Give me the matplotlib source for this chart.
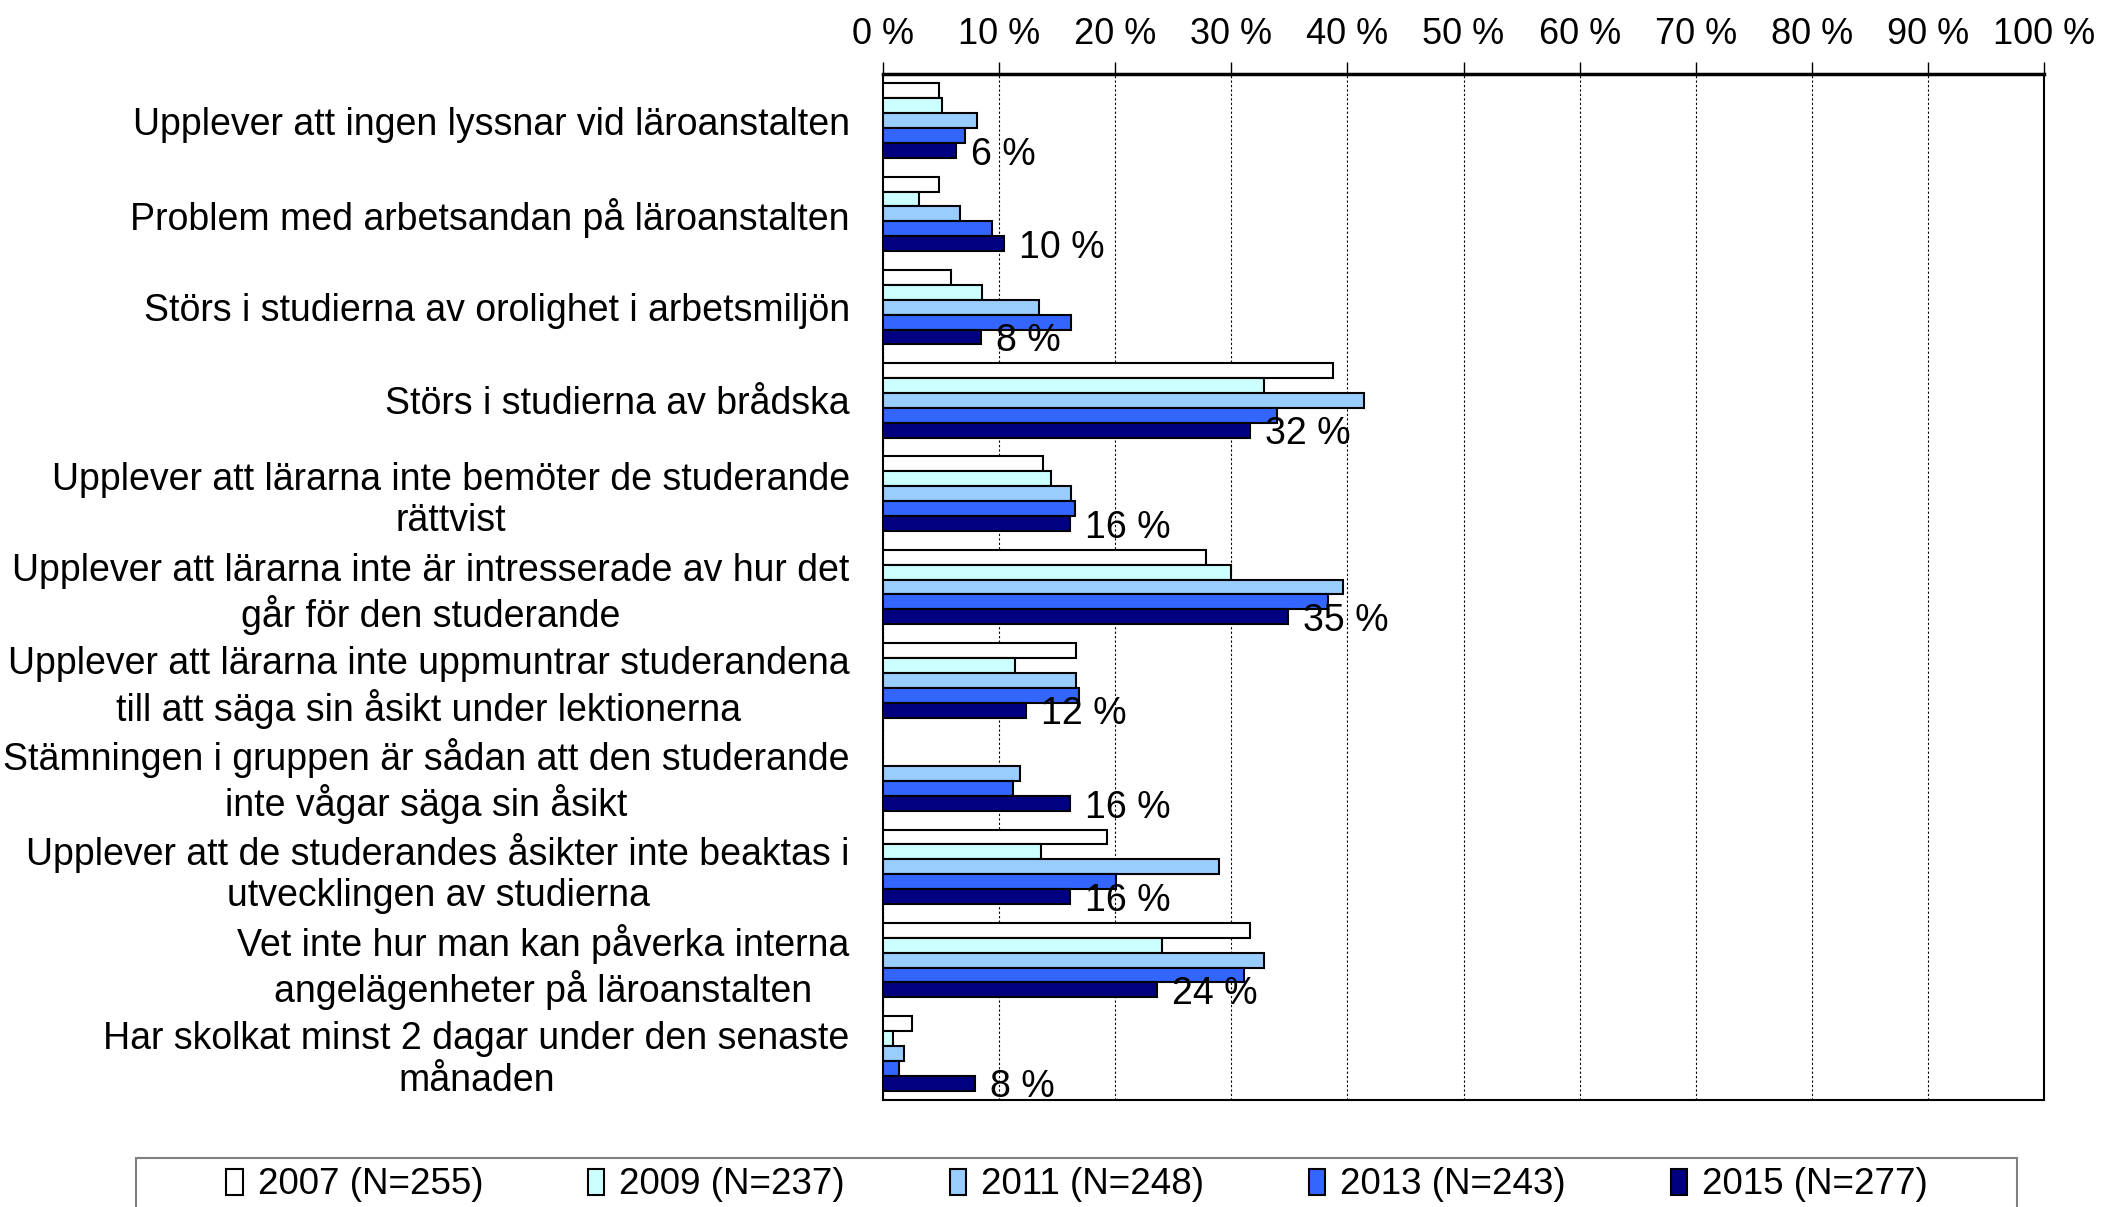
import numpy as np
import matplotlib
matplotlib.use("Agg")
import matplotlib.pyplot as plt
from matplotlib.patches import Rectangle, Patch

plt.rcParams['font.family'] = ['Liberation Sans', 'DejaVu Sans']

categories = [
    "Upplever att ingen lyssnar vid läroanstalten",
    "Problem med arbetsandan på läroanstalten",
    "Störs i studierna av orolighet i arbetsmiljön",
    "Störs i studierna av brådska",
    "Upplever att lärarna inte bemöter de studerande\nrättvist",
    "Upplever att lärarna inte är intresserade av hur det\ngår för den studerande",
    "Upplever att lärarna inte uppmuntrar studerandena\ntill att säga sin åsikt under lektionerna",
    "Stämningen i gruppen är sådan att den studerande\ninte vågar säga sin åsikt",
    "Upplever att de studerandes åsikter inte beaktas i\nutvecklingen av studierna",
    "Vet inte hur man kan påverka interna\nangelägenheter på läroanstalten",
    "Har skolkat minst 2 dagar under den senaste\nmånaden",
]

series_names = ["2007 (N=255)", "2009 (N=237)", "2011 (N=248)", "2013 (N=243)", "2015 (N=277)"]

v2007 = [4.8, 4.8, 5.9, 38.8, 13.8, 27.8, 16.6, np.nan, 19.3, 31.6, 2.5]
v2009 = [5.1, 3.1, 8.5, 32.8, 14.5, 30.0, 11.4, np.nan, 13.6, 24.0, 0.9]
v2011 = [8.1, 6.6, 13.4, 41.4, 16.2, 39.6, 16.6, 11.8, 28.9, 32.8, 1.8]
v2013 = [7.1, 9.4, 16.2, 33.9, 16.5, 38.3, 16.9, 11.2, 20.1, 31.1, 1.4]
v2015 = [6.3, 10.4, 8.4, 31.6, 16.1, 34.9, 12.3, 16.1, 16.1, 23.6, 7.9]

series = [v2007, v2009, v2011, v2013, v2015]
colors = ["#FFFFFF", "#CCFFFF", "#99CCFF", "#3366FF", "#000080"]
xticks = list(range(0, 101, 10))
xticklabels = [f"{t} %" for t in xticks]

W, H = 2116, 1207
fig = plt.figure(figsize=(W / 100, H / 100), dpi=100)
ax = fig.add_axes([883 / W, 1 - 1100 / H, (2044 - 883) / W, (1100 - 74) / H])

n = len(categories)
y = np.arange(n)
bh = 0.16
for j, (vals, col) in enumerate(zip(series, colors)):
    for i, v in enumerate(vals):
        if np.isnan(v):
            continue
        ax.barh(y[i] + (j - 2) * bh, v, height=bh, color=col,
                edgecolor="black", linewidth=1.5, zorder=3)

for i, v in enumerate(v2015):
    ax.annotate(f"{int(round(v))} %", xy=(v, y[i] + 2 * bh), xytext=(11, -3),
                textcoords="offset points", ha="left", va="center",
                fontsize=27, zorder=5)

ax.set_xlim(0, 100)
ax.set_ylim(n - 0.5, -0.5)
ax.set_xticks(xticks)
ax.set_xticklabels(xticklabels, fontsize=26)
ax.xaxis.tick_top()
ax.tick_params(axis="x", direction="out", length=9, width=1, pad=7)
ax.set_yticks(y)
ax.set_yticklabels(categories, fontsize=27, multialignment="center", linespacing=1.2)
ax.tick_params(axis="y", length=0, pad=24)

ax.grid(axis="x", color="black", linestyle=(0, (2, 2)), linewidth=0.8, zorder=0)
for s in ["left", "bottom", "right"]:
    ax.spines[s].set_linewidth(1.5)
    ax.spines[s].set_color("black")
ax.spines["top"].set_linewidth(2.5)

# legend
fig.patches.append(Rectangle((136 / W, -0.05), (2017 - 136) / W, 0.05 + 1 - 1158 / H,
                             transform=fig.transFigure, facecolor="white",
                             edgecolor="#808080", linewidth=1.5))
handles = [Patch(facecolor=c, edgecolor="black", linewidth=1.5) for c in colors]
fig.legend(handles, series_names, loc="center", bbox_to_anchor=(1077 / W, 1 - 1185 / H),
           ncol=5, frameon=False, fontsize=26.5, handlelength=0.45, handleheight=0.7,
           handletextpad=0.4, columnspacing=2.85)

fig.savefig("out.png", dpi=100)
